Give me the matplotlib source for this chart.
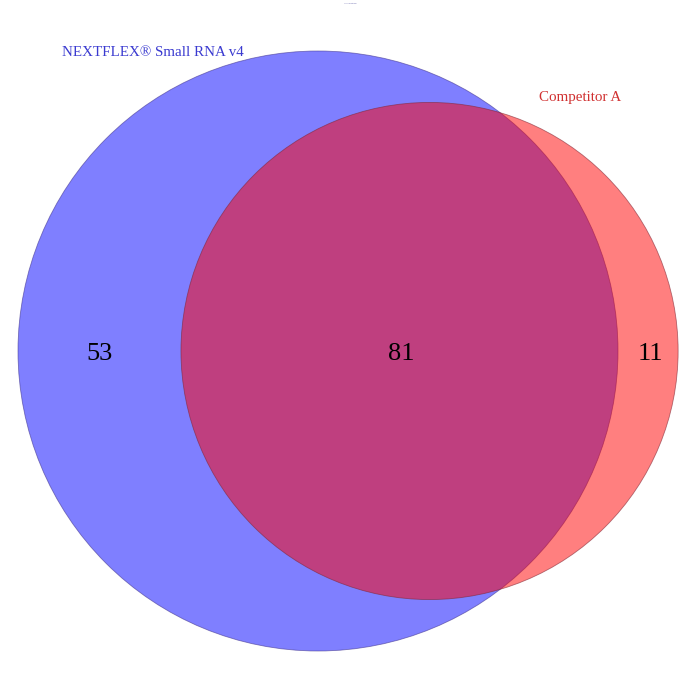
import numpy as np
import matplotlib
matplotlib.use('Agg')
import matplotlib.pyplot as plt
from matplotlib.patches import Circle

set_labels = ['NEXTFLEX® Small RNA v4', 'Competitor A']
only_a = 53
both = 81
only_b = 11
title = 'Venn diagram'

size_a = only_a + both
size_b = only_b + both

# radii so that circle areas are proportional to set sizes
r1 = np.sqrt(size_a)
r2 = np.sqrt(size_b)


def overlap(d, ra, rb):
    if d >= ra + rb:
        return 0.0
    if d <= abs(ra - rb):
        return np.pi * min(ra, rb) ** 2
    a1 = ra * ra * np.arccos((d * d + ra * ra - rb * rb) / (2 * d * ra))
    a2 = rb * rb * np.arccos((d * d + rb * rb - ra * ra) / (2 * d * rb))
    a3 = 0.5 * np.sqrt((-d + ra + rb) * (d + ra - rb) * (d - ra + rb) * (d + ra + rb))
    return a1 + a2 - a3


target = np.pi * both
lo, hi = abs(r1 - r2), r1 + r2
for i in range(100):
    mid = (lo + hi) / 2
    if overlap(mid, r1, r2) > target:
        lo = mid
    else:
        hi = mid
d = (lo + hi) / 2

c1 = (0.0, 0.0)
c2 = (d, 0.0)

k = 300.0 / r1  # pixels per unit
plt.rcParams['font.family'] = ['Liberation Serif', 'DejaVu Serif']
fig = plt.figure(figsize=(7, 7), dpi=100)
ax = fig.add_axes([0, 0, 1, 1])
ax.set_xlim(-318 / k, 382 / k)
ax.set_ylim(-349 / k, 351 / k)
ax.axis('off')

ax.add_patch(Circle(c1, r1, facecolor=(0, 0, 1, 0.5), edgecolor=(0.25, 0.2, 0.55, 0.6), lw=0.6))
ax.add_patch(Circle(c2, r2, facecolor=(1, 0, 0, 0.5), edgecolor=(0.5, 0.15, 0.2, 0.6), lw=0.6))

fs = 19
ty = -2.5 / k
ax.text((c1[0] - r1 + c2[0] - r2) / 2, ty, str(only_a), ha='center', va='center', fontsize=fs)
ax.text((c2[0] - r2 + c1[0] + r1) / 2 + 1.5 / k, ty, str(both), ha='center', va='center', fontsize=fs)
ax.text((c1[0] + r1 + c2[0] + r2) / 2 + 2 / k, ty, str(only_b), ha='center', va='center', fontsize=fs)

ax.text((153 - 318) / k, (351 - 52) / k, set_labels[0], ha='center', va='center',
        fontsize=10.8, color='#3a3ad0')
ax.text((580 - 318) / k, (351 - 97) / k, set_labels[1], ha='center', va='center',
        fontsize=10.8, color='#d03030')

fig.text(0.5, 0.996, title, ha='center', va='top', fontsize=1.5, color='#6666aa')

fig.savefig('out.png', dpi=100)
